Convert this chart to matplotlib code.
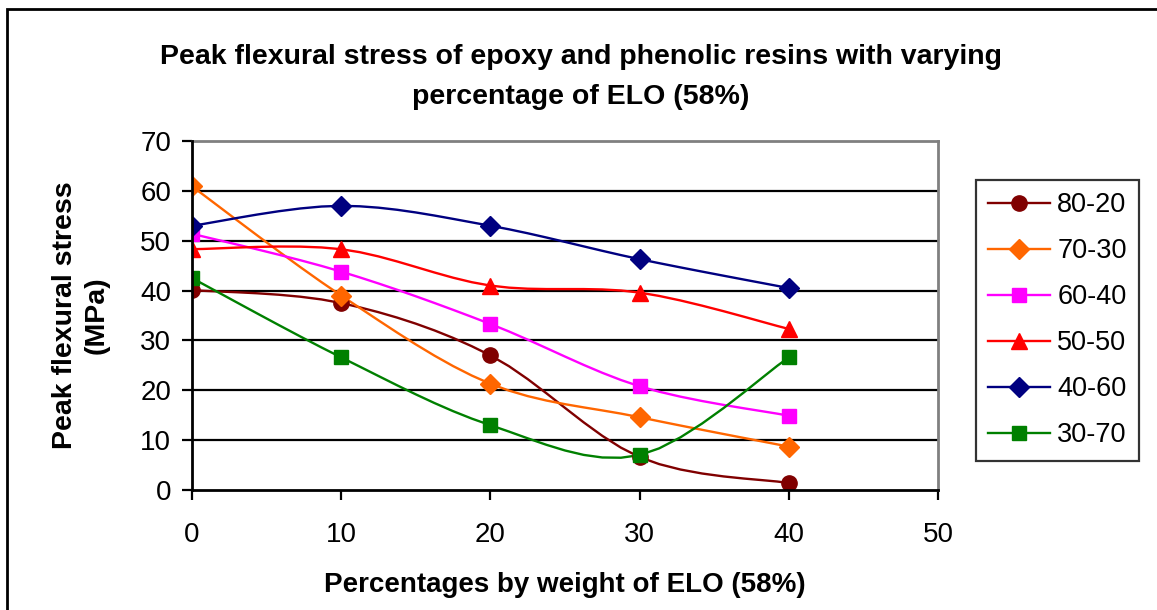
import matplotlib.pyplot as plt
import numpy as np
from matplotlib.patches import Rectangle

plt.rcParams['font.family'] = ['Liberation Sans', 'DejaVu Sans']

# -------- Data --------
elo_pct = [0, 10, 20, 30, 40]
series_names = ['80-20', '70-30', '60-40', '50-50', '40-60', '30-70']
s_80_20 = [40.1, 37.5, 27.0, 6.6, 1.4]
s_70_30 = [60.9, 39.0, 21.3, 14.6, 8.7]
s_60_40 = [51.4, 43.8, 33.3, 20.8, 14.9]
s_50_50 = [48.3, 48.3, 41.0, 39.6, 32.3]
s_40_60 = [53.0, 57.0, 53.0, 46.3, 40.5]
s_30_70 = [42.5, 26.6, 13.0, 7.0, 26.6]
series_values = [s_80_20, s_70_30, s_60_40, s_50_50, s_40_60, s_30_70]

colors = ['#800000', '#FF6600', '#FF00FF', '#FF0000', '#000080', '#008000']
markers = ['o', 'D', 's', '^', 'D', 's']
msizes = [11, 10, 10, 12, 10, 10]


def smooth(x, y, n=9):
    # Excel-style smoothed line: cubic Bezier segments, Catmull-Rom controls
    p = np.column_stack([x, y]).astype(float)
    pts = np.vstack([p[0], p, p[-1]])
    t = np.linspace(0, 1, n)[:, None]
    out = []
    for i in range(1, len(pts) - 2):
        p0, p1, p2, p3 = pts[i - 1], pts[i], pts[i + 1], pts[i + 2]
        c1 = p1 + (p2 - p0) / 6
        c2 = p2 - (p3 - p1) / 6
        seg = ((1 - t) ** 3) * p1 + 3 * ((1 - t) ** 2) * t * c1 + 3 * (1 - t) * t ** 2 * c2 + t ** 3 * p2
        out.append(seg if i == 1 else seg[1:])
    out = np.vstack(out)
    return out[:, 0], out[:, 1]


W, H = 1157, 610
fig = plt.figure(figsize=(W / 100, H / 100), dpi=100)
ax = fig.add_axes([192 / W, 1 - 490 / H, (938 - 192) / W, (490 - 141) / H])

# outer chart border (continues past right/bottom of image)
fig.patches.append(Rectangle((7 / W, -0.05), 1.2, 1 - 9 / H + 0.05, transform=fig.transFigure,
                             fill=False, edgecolor='black', linewidth=2))

yticks = np.arange(0, 71, 10)
ax.hlines(yticks[1:-1], 0, 50, colors='black', linewidth=1.6, zorder=1)

handles = []
for name, vals, c, m, ms in zip(series_names, series_values, colors, markers, msizes):
    xs, ys = smooth(elo_pct, vals)
    ax.plot(xs, ys, color=c, linewidth=1.7, zorder=3)
    ax.plot(elo_pct, vals, linestyle='none', marker=m, markersize=ms, color=c, zorder=4)
    h, = ax.plot([], [], color=c, linewidth=1.7, marker=m, markersize=ms, label=name)
    handles.append(h)

ax.set_xlim(0, 50)
ax.set_ylim(0, 70)
ax.set_xticks(np.arange(0, 51, 10))
ax.set_yticks(yticks)
ax.tick_params(axis='both', direction='out', length=7, width=1.6, labelsize=20, colors='black')
ax.tick_params(axis='x', pad=16)
ax.tick_params(axis='y', pad=8)
for side in ['left', 'bottom']:
    ax.spines[side].set_linewidth(2)
    ax.spines[side].set_zorder(5)
for side in ['top', 'right']:
    ax.spines[side].set_color('#808080')
    ax.spines[side].set_linewidth(2)

fig.text(565 / W, 1 - 585 / H, 'Percentages by weight of ELO (58%)', ha='center', va='center',
         fontsize=20, fontweight='bold')
fig.text(81 / W, 1 - 315 / H, 'Peak flexural stress\n(MPa)', ha='center', va='center', rotation=90,
         fontsize=20.5, fontweight='bold', linespacing=1.25)

fig.text(581 / W, 1 - 77 / H, 'Peak flexural stress of epoxy and phenolic resins with varying\npercentage of ELO (58%)',
         ha='center', va='center', fontsize=20.5, fontweight='bold', linespacing=1.65)

leg = fig.legend(handles=handles, loc='upper left', bbox_to_anchor=(976 / W, 1 - 180 / H),
                 fontsize=19.5, frameon=True, fancybox=False, handlelength=2.3, handletextpad=0.25,
                 labelspacing=0.74, borderpad=0.45, borderaxespad=0)
leg.get_frame().set_edgecolor('black')
leg.get_frame().set_linewidth(1.6)

fig.savefig('out.png', dpi=100)
